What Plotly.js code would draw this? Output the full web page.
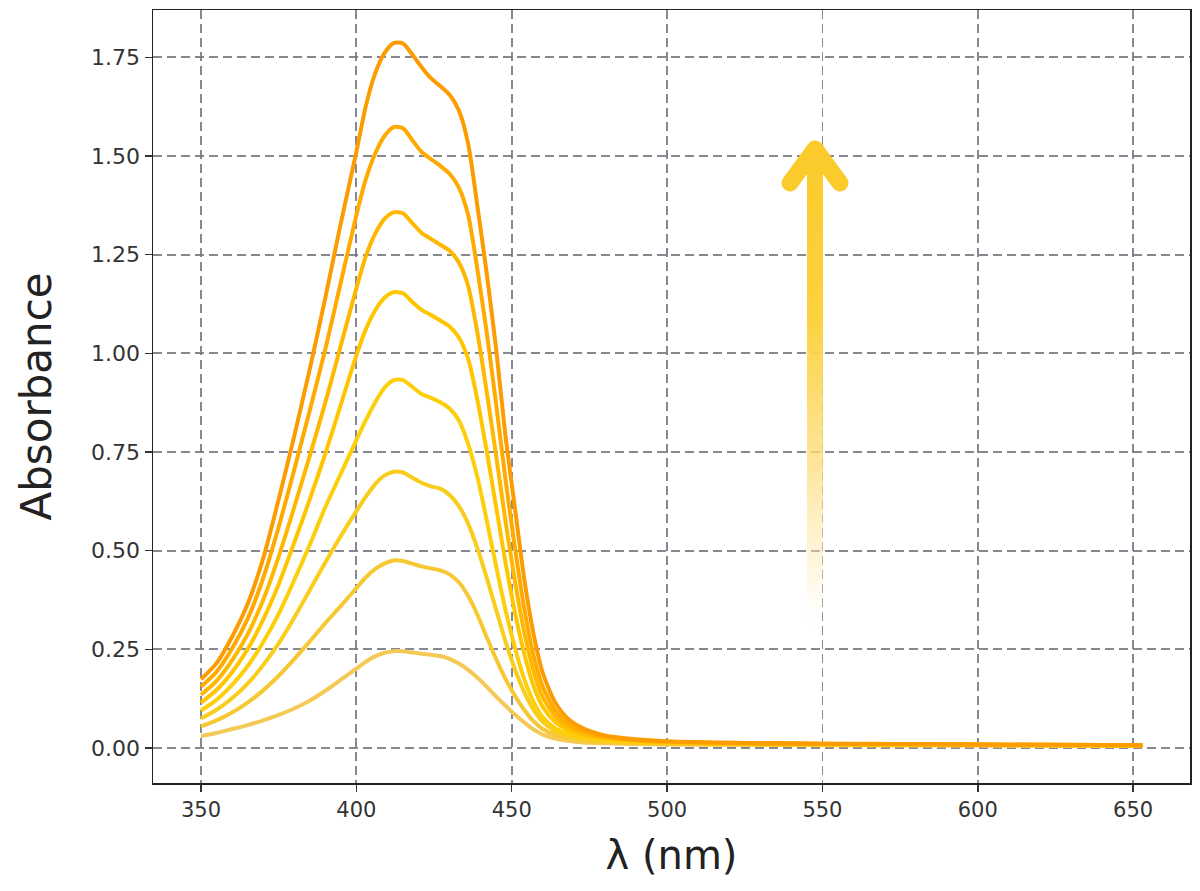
<!DOCTYPE html>
<html>
<head>
<meta charset="utf-8">
<script src="https://cdn.plot.ly/plotly-3.0.1.min.js"></script>
<style>html,body{margin:0;padding:0;background:#fff;}#chart{width:1200px;height:891px;}</style>
</head>
<body>
<div id="chart"></div>
<script>
// Wavelength grid (nm)
const wavelength = [350,355,360,365,370,375,380,385,390,395,400,403,406,409,412,415,418,421,424,427,430,433,436,439,442,445,448,451,454,457,460,464,468,473,480,490,500,520,550,600,653];

// Absorbance spectra, lowest to highest
const abs_1 = [0.030,0.038,0.048,0.058,0.070,0.084,0.100,0.120,0.145,0.173,0.201,0.218,0.232,0.241,0.245,0.245,0.242,0.239,0.236,0.233,0.226,0.214,0.198,0.178,0.155,0.130,0.107,0.085,0.065,0.047,0.034,0.024,0.018,0.014,0.012,0.010,0.009,0.008,0.007,0.006,0.005];
const abs_2 = [0.055,0.070,0.090,0.115,0.146,0.183,0.225,0.270,0.316,0.360,0.405,0.432,0.453,0.467,0.475,0.474,0.467,0.460,0.455,0.450,0.440,0.420,0.385,0.337,0.280,0.225,0.175,0.133,0.097,0.068,0.048,0.033,0.025,0.019,0.015,0.012,0.011,0.009,0.008,0.007,0.006];
const abs_3 = [0.075,0.097,0.126,0.163,0.210,0.265,0.330,0.400,0.470,0.537,0.600,0.636,0.668,0.690,0.700,0.698,0.685,0.672,0.663,0.657,0.641,0.613,0.568,0.505,0.430,0.350,0.270,0.200,0.142,0.097,0.066,0.043,0.031,0.023,0.018,0.014,0.012,0.010,0.009,0.008,0.006];
const abs_4 = [0.095,0.122,0.160,0.207,0.268,0.340,0.425,0.515,0.610,0.695,0.780,0.830,0.875,0.912,0.932,0.932,0.915,0.897,0.887,0.876,0.860,0.830,0.770,0.685,0.575,0.460,0.350,0.255,0.175,0.117,0.078,0.050,0.036,0.027,0.021,0.016,0.014,0.011,0.009,0.008,0.007];
const abs_5 = [0.115,0.147,0.192,0.250,0.325,0.415,0.520,0.630,0.745,0.870,0.995,1.060,1.108,1.140,1.155,1.152,1.130,1.110,1.097,1.083,1.068,1.040,0.985,0.880,0.750,0.610,0.470,0.345,0.240,0.158,0.104,0.066,0.046,0.033,0.024,0.018,0.015,0.012,0.010,0.008,0.007];
const abs_6 = [0.135,0.170,0.222,0.288,0.375,0.485,0.610,0.740,0.875,1.020,1.165,1.245,1.302,1.340,1.357,1.355,1.330,1.305,1.290,1.275,1.260,1.230,1.170,1.050,0.900,0.740,0.575,0.425,0.295,0.195,0.128,0.080,0.054,0.038,0.027,0.019,0.015,0.012,0.010,0.008,0.007];
const abs_7 = [0.155,0.193,0.252,0.327,0.430,0.560,0.705,0.855,1.010,1.180,1.350,1.440,1.505,1.550,1.573,1.570,1.540,1.510,1.492,1.475,1.455,1.420,1.350,1.210,1.050,0.870,0.680,0.510,0.355,0.235,0.155,0.095,0.063,0.043,0.029,0.020,0.016,0.013,0.011,0.009,0.007];
const abs_8 = [0.174,0.215,0.282,0.365,0.480,0.630,0.790,0.960,1.140,1.330,1.510,1.625,1.708,1.760,1.786,1.785,1.757,1.725,1.697,1.677,1.655,1.615,1.530,1.370,1.200,1.010,0.790,0.610,0.430,0.290,0.190,0.115,0.075,0.050,0.032,0.022,0.017,0.013,0.011,0.009,0.007];

const xTicks = [350,400,450,500,550,600,650];
const yTicks = [0,0.25,0.5,0.75,1.0,1.25,1.5,1.75];

const series = [abs_1,abs_2,abs_3,abs_4,abs_5,abs_6,abs_7,abs_8];
const lineColors = ['#f4c955','#f6c934','#f9cd1c','#fccf0a','#ffc600','#ffb800','#ffaa00','#fc9c00'];

const traces = series.map((ys, i) => ({
  x: wavelength, y: ys, type: 'scatter', mode: 'lines',
  line: {color: lineColors[i], width: 4, shape: 'spline', smoothing: 0.7},
  hoverinfo: 'skip', showlegend: false
}));

const arrowSvg = "<svg xmlns='http://www.w3.org/2000/svg' width='80' height='500' viewBox='0 0 80 500' preserveAspectRatio='none'>" +
  "<defs><linearGradient id='g' x1='0' y1='0' x2='0' y2='1'>" +
  "<stop offset='0' stop-color='#fbcb2c' stop-opacity='1'/>" +
  "<stop offset='0.35' stop-color='#fcd23f' stop-opacity='1'/>" +
  "<stop offset='0.65' stop-color='#fddc78' stop-opacity='0.75'/>" +
  "<stop offset='0.88' stop-color='#feeebb' stop-opacity='0.4'/>" +
  "<stop offset='1' stop-color='#ffffff' stop-opacity='0'/>" +
  "</linearGradient></defs>" +
  "<rect x='32' y='14' width='16' height='486' fill='url(#g)'/>" +
  "<path d='M15 48 L40 14 L65 48' fill='none' stroke='#fbcb2c' stroke-width='17' stroke-linecap='round' stroke-linejoin='round'/>" +
  "</svg>";
const arrowSrc = 'data:image/svg+xml;base64,' + btoa(arrowSvg);

const gridStyle = {gridcolor: 'rgba(115,115,125,0.85)', gridwidth: 1.8, griddash: '9px,5px'};

const layout = {
  width: 1200, height: 891,
  margin: {l: 153, r: 10, t: 10, b: 108},
  paper_bgcolor: '#fff', plot_bgcolor: '#fff',
  xaxis: Object.assign({
    range: [334.55, 668.3], tickvals: xTicks, ticktext: xTicks.map(String),
    showline: true, mirror: true, linecolor: '#222', linewidth: 1.5,
    ticks: 'outside', ticklen: 7, tickwidth: 1.5, tickcolor: '#333',
    tickfont: {family: 'DejaVu Sans, sans-serif', size: 21, color: '#333'},
    showgrid: true, zeroline: false,
    title: {text: 'λ (nm)', font: {family: 'DejaVu Sans, sans-serif', size: 40, color: '#222'}, standoff: 20}
  }, gridStyle),
  yaxis: Object.assign({
    range: [-0.0887, 1.8698], tickvals: yTicks, ticktext: yTicks.map(v => v.toFixed(2)),
    showline: true, mirror: true, linecolor: '#222', linewidth: 1.5,
    ticks: 'outside', ticklen: 7, tickwidth: 1.5, tickcolor: '#333',
    tickfont: {family: 'DejaVu Sans, sans-serif', size: 22, color: '#333'},
    showgrid: true, zeroline: false,
    title: {text: 'Absorbance', font: {family: 'DejaVu Sans, sans-serif', size: 42, color: '#222'}, standoff: 26}
  }, gridStyle),
  images: [{
    source: arrowSrc, xref: 'x', yref: 'y',
    x: 534.74, y: 1.5531, sizex: 25.75, sizey: 1.2668,
    sizing: 'stretch', xanchor: 'left', yanchor: 'top', layer: 'above'
  }]
};

Plotly.newPlot('chart', traces, layout, {displayModeBar: false, staticPlot: true});
</script>
</body>
</html>
